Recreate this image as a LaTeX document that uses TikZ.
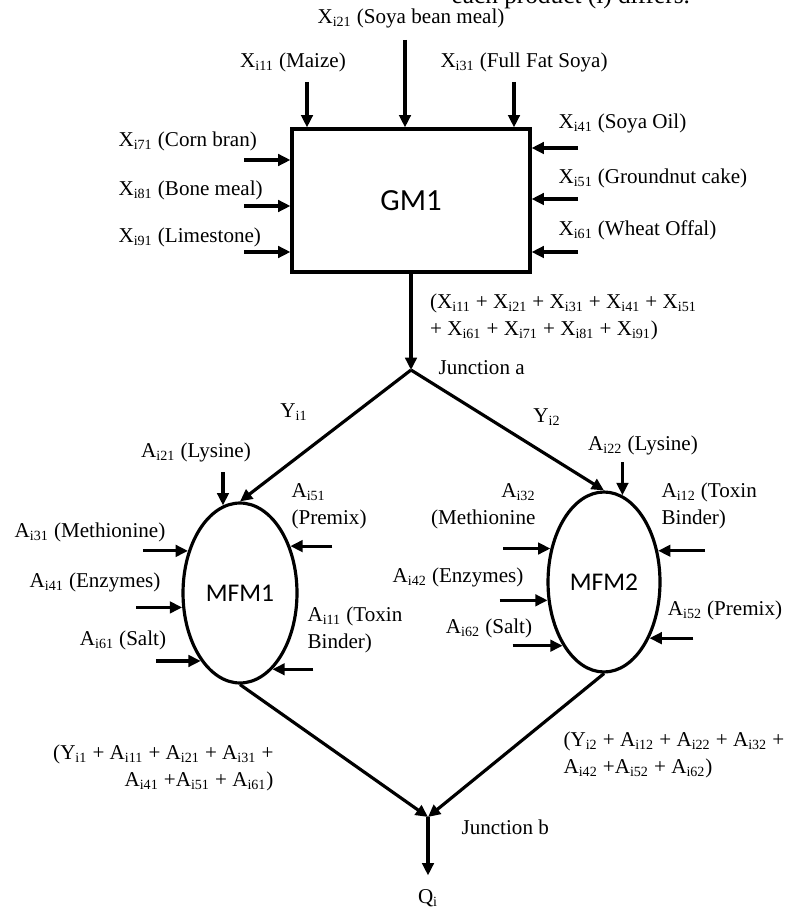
\documentclass[tikz,border=0pt]{standalone}
\usepackage{fontspec}
\setmainfont{Liberation Serif}
\newfontfamily\unitfont{Carlito}
\usetikzlibrary{arrows.meta,shapes.geometric,calc}
\newcommand{\Xs}[1]{X\textsubscript{#1}}
\newcommand{\As}[1]{A\textsubscript{#1}}

\begin{document}
\begin{tikzpicture}[x=0.02cm,y=-0.02cm,>={Triangle[length=7pt,width=6.5pt]},line width=1.8pt,
every node/.style={inner sep=0pt,font=\fontsize{12}{15.2}\selectfont},
unit/.style={draw,font=\unitfont\fontsize{17.5}{20}\selectfont,minimum width=4.76cm,minimum height=2.86cm},
mixer/.style={draw,ellipse,font=\unitfont\fontsize{14.5}{17}\selectfont,minimum height=3.6cm}]
\useasboundingbox (0,0) rectangle (787,911);

\node [unit] (GM) at (411,200.5) {GM1};
\node [mixer,minimum width=2.28cm] (M1) at (240,593) {MFM1};
\node [mixer,minimum width=2.24cm] (M2) at (604,582) {MFM2};
\coordinate (ja) at (411,370);
\coordinate (jb) at (428,817);
\node (Q) at (428,898) {Q\textsubscript{i}};

\node [anchor=base west,font=\fontsize{14.4}{17}\selectfont] (cap) at (450,4) {each product (i) differs.};

% GM1 inputs
\node (l21) at (411,18) {\Xs{i21} (Soya bean meal)};
\node (l11) at (293,62) {\Xs{i11} (Maize)};
\node (l31) at (524,62) {\Xs{i31} (Full Fat Soya)};
\node [anchor=west] (l41) at (557,123) {\Xs{i41} (Soya Oil)};
\node [anchor=west] (l51) at (557,178) {\Xs{i51} (Groundnut cake)};
\node [anchor=west] (l61) at (557,230) {\Xs{i61} (Wheat Offal)};
\node [anchor=west] (l71) at (117,141) {\Xs{i71} (Corn bran)};
\node [anchor=west] (l81) at (117,190) {\Xs{i81} (Bone meal)};
\node [anchor=west] (l91) at (117,237) {\Xs{i91} (Limestone)};

\coordinate (x11) at (307,82);
\coordinate (x21) at (405,40);
\coordinate (x31) at (514,82);
\coordinate (x41) at (578,148);
\coordinate (x51) at (578,199);
\coordinate (x61) at (578,252);
\coordinate (x71) at (244,160);
\coordinate (x81) at (244,206);
\coordinate (x91) at (244,252);
\draw [->] (x11) -- (x11 |- GM.north);
\draw [->] (x21) -- (x21 |- GM.north);
\draw [->] (x31) -- (x31 |- GM.north);
\draw [->] (x41) -- (x41 -| GM.east);
\draw [->] (x51) -- (x51 -| GM.east);
\draw [->] (x61) -- (x61 -| GM.east);
\draw [->] (x71) -- (x71 -| GM.west);
\draw [->] (x81) -- (x81 -| GM.west);
\draw [->] (x91) -- (x91 -| GM.west);

\draw [->] (GM.south) -- (ja) node [pos=.45,right=10pt,align=left] (sumX) {(\Xs{i11} + \Xs{i21} + \Xs{i31} + \Xs{i41} + \Xs{i51}\\+ \Xs{i61} + \Xs{i71} + \Xs{i81} + \Xs{i91})};
\node [anchor=west] (jal) at (437,368) {Junction a};

\draw [->] (ja) -- (M1.north);
\draw [->] (ja) -- (M2.north);
\node (y1) at (294,412) {Y\textsubscript{i1}};
\node (y2) at (547,417) {Y\textsubscript{i2}};

% MFM1 inputs
\node (la21) at (196,452) {\As{i21} (Lysine)};
\node [anchor=west,align=left] (la51) at (290,506) {\As{i51}\\(Premix)};
\node (la31) at (90,532) {\As{i31} (Methionine)};
\node (la41) at (95,582) {\As{i41} (Enzymes)};
\node (la61) at (123,640) {\As{i61} (Salt)};
\node [anchor=west,align=left] (la11) at (306,630) {\As{i11} (Toxin\\Binder)};

\coordinate (a21) at ($(M1.101)+(0,-33)$);
\coordinate (a51) at ($(M1.43)+(42,0)$);
\coordinate (a31) at ($(M1.141)+(-45,0)$);
\coordinate (a41) at ($(M1.194)+(-46,0)$);
\coordinate (a61) at ($(M1.240)+(-45,0)$);
\coordinate (a11) at ($(M1.-67)+(41,0)$);
\draw [->] (a21) -- (M1.101);
\draw [->] (a51) -- (M1.43);
\draw [->] (a31) -- (M1.141);
\draw [->] (a41) -- (M1.194);
\draw [->] (a61) -- (M1.240);
\draw [->] (a11) -- (M1.-67);

% MFM2 inputs
\node (la22) at (643,445) {\As{i22} (Lysine)};
\node [anchor=east,align=right] (la32) at (537,506) {\As{i32}\\(Methionine};
\node (la42) at (458,577) {\As{i42} (Enzymes)};
\node (la62) at (489,628) {\As{i62} (Salt)};
\node [anchor=west,align=left] (la12) at (660,506) {\As{i12} (Toxin\\Binder)};
\node (la52) at (725,610) {\As{i52} (Premix)};

\coordinate (a22) at ($(M2.78)+(0,-33)$);
\coordinate (a32) at ($(M2.148)+(-47,0)$);
\coordinate (a42) at ($(M2.198)+(-48,0)$);
\coordinate (a62) at ($(M2.237)+(-50,0)$);
\coordinate (a12) at ($(M2.30)+(47,0)$);
\coordinate (a52) at ($(M2.-51)+(44,0)$);
\draw [->] (a22) -- (M2.78);
\draw [->] (a32) -- (M2.148);
\draw [->] (a42) -- (M2.198);
\draw [->] (a62) -- (M2.237);
\draw [->] (a12) -- (M2.30);
\draw [->] (a52) -- (M2.-51);

\draw [->] (M1.south) -- (jb);
\draw [->] (M2.south) -- (jb);
\node [anchor=east,align=right] (sumA1) at (275,768) {(Y\textsubscript{i1} + \As{i11} + \As{i21} + \As{i31} +\\\As{i41} +\As{i51} + \As{i61})};
\node [anchor=west,align=left] (sumA2) at (562,755) {(Y\textsubscript{i2} + \As{i12} + \As{i22} + \As{i32} +\\\As{i42} +\As{i52} + \As{i62})};
\node [anchor=west] (jbl) at (460,827) {Junction b};
\draw [->,shorten >=7pt] (jb) -- (Q);

\end{tikzpicture}
\end{document}
